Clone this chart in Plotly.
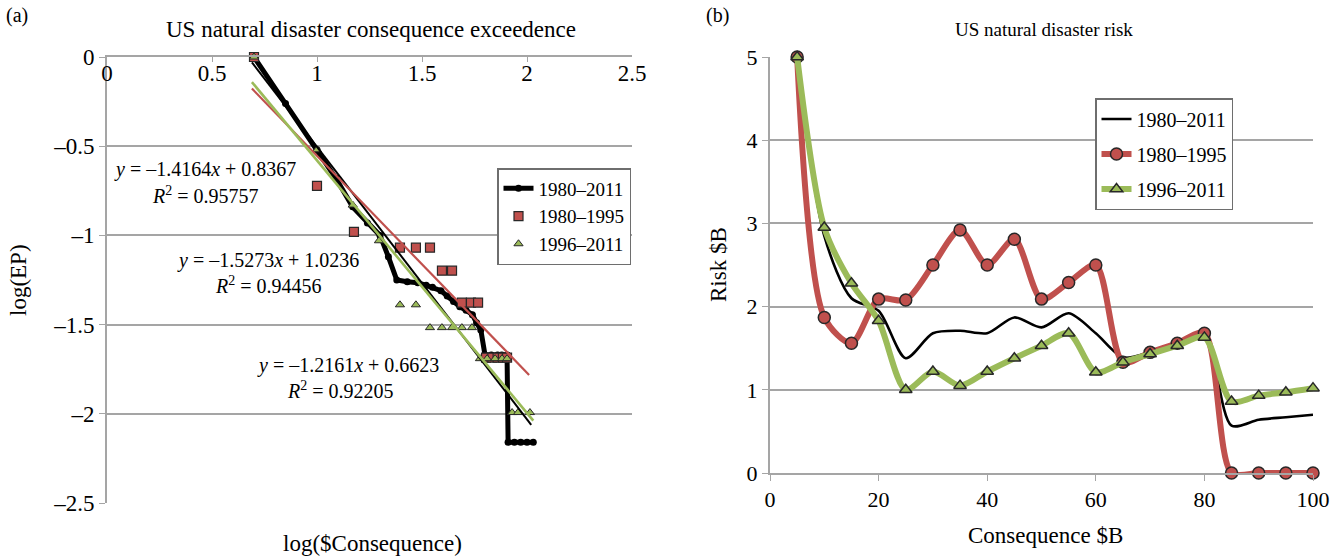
import plotly.graph_objects as go

# ---------------- Panel (a): exceedance probability vs consequence ----------------
log_c_all = [0.70, 0.85, 1.00, 1.09, 1.17, 1.24, 1.30, 1.34, 1.38, 1.43, 1.48, 1.52,
             1.55, 1.59, 1.62, 1.65, 1.68, 1.71, 1.74, 1.76, 1.78, 1.80, 1.83, 1.86,
             1.88, 1.905, 1.91, 1.94, 1.97, 2.00, 2.03]
log_ep_all = [0.0, -0.26, -0.52, -0.68, -0.84, -0.93, -1.00, -1.12, -1.25, -1.26, -1.265, -1.28,
              -1.29, -1.31, -1.34, -1.37, -1.40, -1.42, -1.445, -1.49, -1.53, -1.67, -1.67, -1.67,
              -1.67, -1.67, -2.16, -2.16, -2.16, -2.16, -2.16]

log_c_8095 = [0.70, 1.00, 1.176, 1.395, 1.471, 1.538, 1.595, 1.643, 1.690, 1.733, 1.767,
              1.805, 1.835, 1.860, 1.885, 1.905]
log_ep_8095 = [0.0, -0.722, -0.98, -1.069, -1.069, -1.069, -1.198, -1.198, -1.377, -1.377, -1.377,
               -1.685, -1.685, -1.685, -1.685, -1.685]

log_c_9611 = [0.70, 1.00, 1.17, 1.295, 1.395, 1.471, 1.538, 1.595, 1.643, 1.690, 1.738,
              1.776, 1.810, 1.848, 1.881, 1.905, 1.929, 1.957, 2.014]
log_ep_9611 = [0.0, -0.52, -0.83, -1.03, -1.389, -1.389, -1.517, -1.517, -1.517, -1.517, -1.517,
               -1.691, -1.691, -1.691, -1.691, -1.691, -1.993, -1.993, -1.993]

# Linear fits: slope, intercept, R^2 and x-extent
fit_all = dict(slope=-1.5273, intercept=1.0236, r2="0.94456", x0=0.69, x1=2.02)
fit_8095 = dict(slope=-1.2161, intercept=0.6623, r2="0.92205", x0=0.69, x1=2.01)
fit_9611 = dict(slope=-1.4164, intercept=0.8367, r2="0.95757", x0=0.69, x1=2.03)

# ---------------- Panel (b): risk vs consequence ----------------
consequence = [5, 10, 15, 20, 25, 30, 35, 40, 45, 50, 55, 60, 65, 70, 75, 80, 85, 90, 95, 100]
risk_all = [5.0, 2.85, 2.1, 1.95, 1.38, 1.68, 1.71, 1.68, 1.87, 1.75, 1.92, 1.68, 1.39,
            1.45, 1.55, 1.65, 0.57, 0.64, 0.67, 0.70]
risk_8095 = [5.0, 1.87, 1.56, 2.09, 2.08, 2.5, 2.92, 2.5, 2.81, 2.09, 2.29, 2.5, 1.33,
             1.45, 1.56, 1.68, 0.0, 0.0, 0.0, 0.0]
risk_9611 = [5.0, 2.95, 2.28, 1.83, 1.0, 1.22, 1.05, 1.22, 1.38, 1.53, 1.68, 1.21, 1.33,
             1.43, 1.53, 1.63, 0.86, 0.93, 0.97, 1.02]

left_ticks = [0, -0.5, -1, -1.5, -2, -2.5]
left_ticktext = ["0", "\u20130.5", "\u20131", "\u20131.5", "\u20132", "\u20132.5"]
top_ticks = [0, 0.5, 1, 1.5, 2, 2.5]
top_ticktext = ["0", "0.5", "1", "1.5", "2", "2.5"]

FONT = "Liberation Serif"
RED = "rgb(192,80,77)"
GREEN = "rgb(155,187,89)"
GRID = "rgb(165,165,165)"
DARK = "rgb(40,40,40)"

fig = go.Figure()

# Panel (a) traces
fig.add_trace(go.Scatter(
    x=log_c_all, y=log_ep_all, mode="lines+markers", name="1980\u20132011",
    line=dict(color="black", width=5),
    marker=dict(symbol="circle", size=7, color="black"),
    xaxis="x", yaxis="y", legend="legend", legendgroup="a1", cliponaxis=False))
fig.add_trace(go.Scatter(
    x=log_c_8095, y=log_ep_8095, mode="markers", name="1980\u20131995",
    marker=dict(symbol="square", size=9, color=RED, line=dict(color=DARK, width=1.2)),
    xaxis="x", yaxis="y", legend="legend", legendgroup="a2", cliponaxis=False))
fig.add_trace(go.Scatter(
    x=log_c_9611, y=log_ep_9611, mode="markers", name="1996\u20132011",
    marker=dict(symbol="triangle-up", size=8, color=GREEN, line=dict(color=DARK, width=1)),
    xaxis="x", yaxis="y", legend="legend", legendgroup="a3", cliponaxis=False))

for fit, col, w in [(fit_all, "black", 2), (fit_8095, RED, 2.2), (fit_9611, GREEN, 2.6)]:
    xs = [fit["x0"], fit["x1"]]
    ys = [fit["slope"] * v + fit["intercept"] for v in xs]
    fig.add_trace(go.Scatter(x=xs, y=ys, mode="lines", line=dict(color=col, width=w),
                             showlegend=False, xaxis="x", yaxis="y", hoverinfo="skip"))

# Panel (b) traces
fig.add_trace(go.Scatter(
    x=consequence, y=risk_all, mode="lines", name="1980\u20132011",
    line=dict(color="black", width=2.6, shape="spline", smoothing=0.8),
    xaxis="x2", yaxis="y2", legend="legend2", legendgroup="b1", cliponaxis=False))
fig.add_trace(go.Scatter(
    x=consequence, y=risk_8095, mode="lines+markers", name="1980\u20131995",
    line=dict(color=RED, width=6, shape="spline", smoothing=0.8),
    marker=dict(symbol="circle", size=12, color=RED, line=dict(color=DARK, width=1.5)),
    xaxis="x2", yaxis="y2", legend="legend2", legendgroup="b2", cliponaxis=False))
fig.add_trace(go.Scatter(
    x=consequence, y=risk_9611, mode="lines+markers", name="1996\u20132011",
    line=dict(color=GREEN, width=6, shape="spline", smoothing=0.8),
    marker=dict(symbol="triangle-up", size=11, color=GREEN, line=dict(color=DARK, width=1.5)),
    xaxis="x2", yaxis="y2", legend="legend2", legendgroup="b3", cliponaxis=False))

eq_font = dict(family=FONT, size=20, color="black")


def fit_label(fit):
    return ("<i>y</i> = \u2013%.4f<i>x</i> + %.4f" % (-fit["slope"], fit["intercept"]),
            "<i>R</i><sup>2</sup> = %s" % fit["r2"])


annotations = []
for fit, (xe, ye), (xr, yr) in [
    (fit_9611, (0.467, -0.633), (0.467, -0.773)),
    (fit_all, (0.767, -1.142), (0.767, -1.277)),
    (fit_8095, (1.148, -1.730), (1.110, -1.865)),
]:
    eq, r2 = fit_label(fit)
    annotations.append(dict(x=xe, y=ye, xref="x", yref="y", text=eq, showarrow=False,
                            xanchor="center", yanchor="middle", font=eq_font))
    annotations.append(dict(x=xr, y=yr, xref="x", yref="y", text=r2, showarrow=False,
                            xanchor="center", yanchor="middle", font=eq_font))


def label(x, y, text, size, angle=0):
    return dict(x=x / 1344, y=1 - y / 557, xref="paper", yref="paper", text=text,
                textangle=angle, showarrow=False, xanchor="center", yanchor="middle",
                font=dict(family=FONT, size=size, color="black"))


annotations += [
    label(371, 30, "US natural disaster consequence exceedence", 23),
    label(1044, 30, "US natural disaster risk", 19),
    label(17, 16, "(a)", 20),
    label(717, 16, "(b)", 20),
    label(18, 280, "log(EP)", 23, -90),
    label(372, 543, "log($Consequence)", 23),
    label(718, 265, "Risk $B", 23, -90),
    label(1045, 535, "Consequence $B", 23),
]

axis_common = dict(showline=True, linecolor=GRID, linewidth=2, zeroline=False, tickcolor=GRID,
                   fixedrange=True, ticklabeloverflow="allow")

fig.update_layout(
    width=1344, height=557,
    margin=dict(l=0, r=0, t=0, b=0, autoexpand=False),
    paper_bgcolor="white", plot_bgcolor="white",
    font=dict(family=FONT, color="black"),
    xaxis=dict(domain=[107 / 1344, 632 / 1344], range=[0, 2.5], side="top", anchor="y",
               tickvals=top_ticks, ticktext=top_ticktext, ticks="inside", ticklen=5,
               ticklabelposition="inside", ticklabelstandoff=5, showgrid=False,
               tickfont=dict(family=FONT, size=23, color="black"), **axis_common),
    yaxis=dict(domain=[1 - 503 / 557, 1 - 57 / 557], range=[-2.5, 0], anchor="x",
               tickvals=left_ticks, ticktext=left_ticktext, ticks="outside", ticklen=6,
               showgrid=True, gridcolor=GRID, gridwidth=1.5,
               tickfont=dict(family=FONT, size=23, color="black"), **axis_common),
    xaxis2=dict(domain=[770 / 1344, 1313 / 1344], range=[0, 100], anchor="y2",
                tickvals=[0, 20, 40, 60, 80, 100], ticks="outside", ticklen=6,
                showgrid=False, tickfont=dict(family=FONT, size=22, color="black"), **axis_common),
    yaxis2=dict(domain=[1 - 473 / 557, 1 - 57 / 557], range=[0, 5], anchor="x2",
                tickvals=[0, 1, 2, 3, 4, 5], ticks="outside", ticklen=6,
                showgrid=True, gridcolor=GRID, gridwidth=1.5,
                tickfont=dict(family=FONT, size=22, color="black"), **axis_common),
    legend=dict(x=497 / 1344, y=1 - 168 / 557, xanchor="left", yanchor="top",
                bgcolor="white", bordercolor="rgb(110,110,110)", borderwidth=1.5,
                font=dict(family=FONT, size=19, color="black"), tracegroupgap=0,
                itemwidth=30),
    legend2=dict(x=1095 / 1344, y=1 - 98 / 557, xanchor="left", yanchor="top",
                 bgcolor="white", bordercolor="rgb(110,110,110)", borderwidth=1.5,
                 font=dict(family=FONT, size=20, color="black"), tracegroupgap=6,
                 itemwidth=30),
    annotations=annotations,
    showlegend=True,
)

fig.write_html("out.html")
